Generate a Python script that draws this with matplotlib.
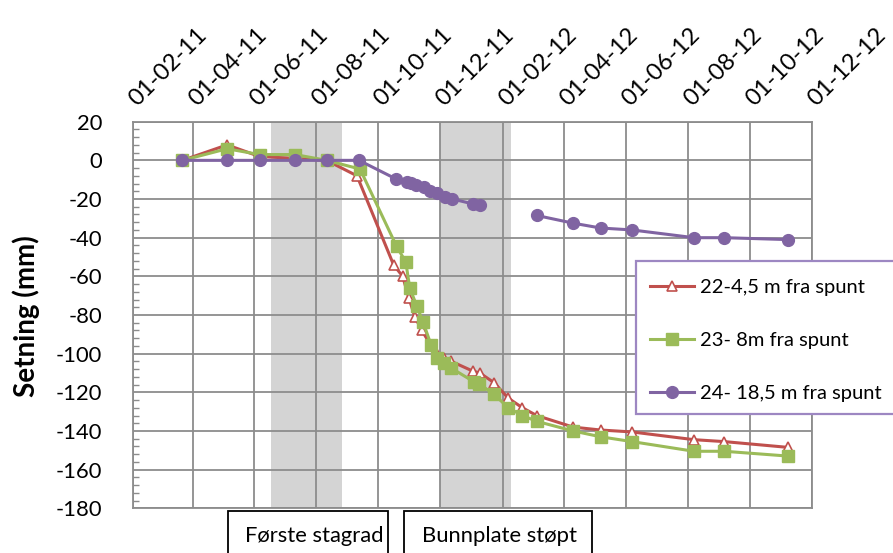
import matplotlib
matplotlib.use("Agg")
import matplotlib.pyplot as plt
import matplotlib.dates as mdates
import matplotlib.transforms as mtransforms
from matplotlib.patches import Rectangle
from matplotlib.ticker import MultipleLocator
import numpy as np
import pandas as pd

plt.rcParams['font.family'] = ['Lato', 'DejaVu Sans']
plt.rcParams['axes.unicode_minus'] = False

# ---- measurement data -------------------------------------------------
dates_22 = ["2011-03-22", "2011-05-05", "2011-06-06", "2011-07-11", "2011-08-11",
            "2011-09-10", "2011-10-16", "2011-10-25", "2011-10-31", "2011-11-06",
            "2011-11-13", "2011-11-22", "2011-11-28", "2011-12-05", "2011-12-12",
            "2012-01-02", "2012-01-09", "2012-01-23", "2012-02-06", "2012-02-20",
            "2012-03-05", "2012-04-10", "2012-05-07", "2012-06-07", "2012-08-07",
            "2012-09-06", "2012-11-08"]
setning_22 = [0, 8, 2, 1, 0, -8, -54, -60, -71, -81, -88, -96, -100, -102, -104,
              -109, -110, -115, -123, -128, -132, -138, -139.5, -140.5, -144.5,
              -145.5, -148.5]

dates_23 = ["2011-03-22", "2011-05-05", "2011-06-06", "2011-07-11", "2011-08-11",
            "2011-09-13", "2011-10-19", "2011-10-28", "2011-11-01", "2011-11-08",
            "2011-11-14", "2011-11-22", "2011-11-28", "2011-12-05", "2011-12-12",
            "2012-01-03", "2012-01-08", "2012-01-23", "2012-02-06", "2012-02-20",
            "2012-03-05", "2012-04-10", "2012-05-07", "2012-06-07", "2012-08-07",
            "2012-09-06", "2012-11-08"]
setning_23 = [0, 6, 3, 3, 0, -4.5, -44.5, -52.5, -66, -75.5, -83.5, -95.5, -102.5,
              -105, -107.5, -114.5, -115.5, -121, -128, -132, -135, -140, -143,
              -145.5, -150.5, -150.5, -153]

dates_24 = ["2011-03-22", "2011-05-05", "2011-06-06", "2011-07-11", "2011-08-11",
            "2011-09-12", "2011-10-18", "2011-10-29", "2011-11-02", "2011-11-07",
            "2011-11-15", "2011-11-21", "2011-11-28", "2011-12-06", "2011-12-13",
            "2012-01-02", "2012-01-09", "2012-02-06", "2012-03-05", "2012-04-10",
            "2012-05-07", "2012-06-07", "2012-08-07", "2012-09-06", "2012-11-08"]
setning_24 = [0, 0, 0, 0, 0, 0, -9.5, -11, -11.5, -12.5, -14, -16, -17, -19, -20,
              -22.5, -23, np.nan, -28.5, -32.5, -35, -36, -40, -40, -41]

labels = ["22-4,5 m fra spunt", "23- 8m fra spunt", "24- 18,5 m fra spunt"]
colors = ["#C0504D", "#9BBB59", "#8064A2"]

# construction phases (shaded periods) and their captions
phase_spans = [("2011-06-17", "2011-08-26"), ("2011-12-01", "2012-02-09")]
phase_labels = ["Første stagrad", "Bunnplate støpt"]

x_start, x_end = "2011-02-01", "2012-12-01"
y_min, y_max = -180, 20

# ---- figure -----------------------------------------------------------
W, H = 893, 553
fig = plt.figure(figsize=(W / 100, H / 100), dpi=100)
L, R, T, B = 132.7, 811.7, 121.7, 508.3
ax = fig.add_axes([L / W, 1 - B / H, (R - L) / W, (B - T) / H])

for a, b in phase_spans:
    ax.axvspan(pd.Timestamp(a), pd.Timestamp(b), color="#D4D4D4", lw=0, zorder=0.2)

grid_c = "#8C8C8C"
ax.set_axisbelow(True)
ax.grid(True, which="major", color=grid_c, lw=1.3)

h22, = ax.plot(pd.to_datetime(dates_22), setning_22, color=colors[0], lw=2.2,
               marker="^", ms=7.5, mfc="white", mec=colors[0], mew=1.2, zorder=3)
h23, = ax.plot(pd.to_datetime(dates_23), setning_23, color=colors[1], lw=2.2,
               marker="s", ms=8, mfc=colors[1], mec=colors[1], zorder=4)
h24, = ax.plot(pd.to_datetime(dates_24), setning_24, color=colors[2], lw=2.2,
               marker="o", ms=8.5, mfc=colors[2], mec=colors[2], zorder=5)

ax.set_xlim(pd.Timestamp(x_start), pd.Timestamp(x_end))
ax.set_ylim(y_min, y_max)

ax.xaxis.set_major_locator(mdates.MonthLocator(bymonth=[2, 4, 6, 8, 10, 12], bymonthday=1))
ax.xaxis.set_major_formatter(mdates.DateFormatter("%d-%m-%y"))
ax.xaxis.tick_top()
ax.tick_params(axis="x", length=0, pad=10, labelsize=17)
shift = mtransforms.ScaledTranslation(0.07, -0.02, fig.dpi_scale_trans)
for lab in ax.get_xticklabels():
    lab.set_rotation(45)
    lab.set_ha("left")
    lab.set_va("bottom")
    lab.set_rotation_mode("anchor")
    lab.set_transform(lab.get_transform() + shift)

ax.yaxis.set_major_locator(MultipleLocator(20))
ax.yaxis.set_minor_locator(MultipleLocator(4))
ax.tick_params(axis="y", which="major", length=0, pad=22, labelsize=15.8)
ax.tick_params(axis="y", which="minor", direction="in", length=4, color=grid_c, width=1)

for s in ax.spines.values():
    s.set_color(grid_c)
    s.set_linewidth(1.3)

fig.text(26 / W, 1 - 316 / H, "Setning (mm)", rotation=90, fontsize=20,
         fontweight="bold", ha="center", va="center")

# legend with its own frame running off the right edge
fig.add_artist(Rectangle((636 / W, 1 - 414 / H), 300 / W, 153 / H,
                         transform=fig.transFigure, facecolor="white",
                         edgecolor="#9D87C2", lw=1.6, zorder=5))
leg = fig.legend([h22, h23, h24], labels, loc="upper left",
                 bbox_to_anchor=(650 / W, 1 - 279 / H), frameon=False, fontsize=14.5,
                 handlelength=2.2, handletextpad=0.3, labelspacing=1.78,
                 borderaxespad=0, borderpad=0.0)
leg.set_zorder(6)

# phase captions below the plot
boxes = [(228.3, 387.7, 245), (404.3, 592.3, 421.7)]
for (x0, x1, tx), txt in zip(boxes, phase_labels):
    fig.add_artist(Rectangle((x0 / W, 1 - 570 / H), (x1 - x0) / W, (570 - 510.7) / H,
                             transform=fig.transFigure, facecolor="white",
                             edgecolor="black", lw=1.3))
    fig.text(tx / W, 1 - 541.7 / H, txt, fontsize=15.8, ha="left", va="baseline")

fig.savefig("out.png", dpi=100)
